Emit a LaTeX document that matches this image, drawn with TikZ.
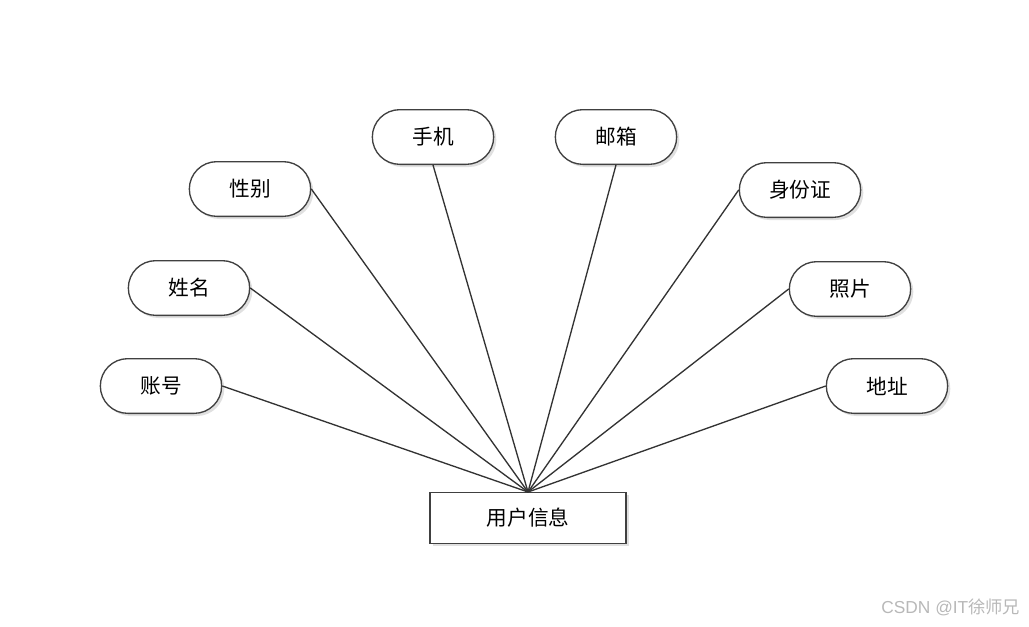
\documentclass[tikz,border=0pt]{standalone}
\usepackage{fontspec}
\newfontfamily\cjk{Noto Sans CJK SC}
\newfontfamily\wmfont{Liberation Sans}
\usetikzlibrary{shapes.misc,shadows}

\begin{document}
\begin{tikzpicture}[x=0.75pt, y=-0.75pt,
    attr/.style={rounded rectangle, draw=black!75, line width=1pt, fill=white, minimum width=91pt, minimum height=41pt, inner sep=0pt, font=\cjk\fontsize{15.5}{17}\selectfont,
        drop shadow={shadow xshift=2pt, shadow yshift=-2pt, opacity=0.12, fill=black}},
    entity/.style={rectangle, draw=black!75, line width=1pt, fill=white, minimum width=147pt, minimum height=38pt, inner sep=0pt, font=\cjk\fontsize{15.5}{17}\selectfont,
        drop shadow={shadow xshift=2pt, shadow yshift=-2pt, opacity=0.12, fill=black}},
    link/.style={draw=black!80, line width=1pt}]

    \useasboundingbox (0,0) rectangle (1029,626);

    \node[entity] (user) at (528,518) {用户信息};

    \node[attr] (account) at (161,386) {账号};
    \node[attr] (name) at (189,288) {姓名};
    \node[attr] (gender) at (250,189) {性别};
    \node[attr] (phone) at (433,137) {手机};
    \node[attr] (email) at (616,137) {邮箱};
    \node[attr] (idcard) at (800,190) {身份证};
    \node[attr] (photo) at (850,289) {照片};
    \node[attr] (address) at (887,386) {地址};

    \foreach \a/\s in {account/east,name/east,gender/east,phone/south,email/south,idcard/west,photo/west,address/west}
        \draw[link] (\a.\s) -- (user.north);

    \node[text=black!28, font=\wmfont\fontsize{13}{15}\selectfont, anchor=east] (mark) at (1025,607) {CSDN @IT{\cjk 徐师兄}};
\end{tikzpicture}
\end{document}
